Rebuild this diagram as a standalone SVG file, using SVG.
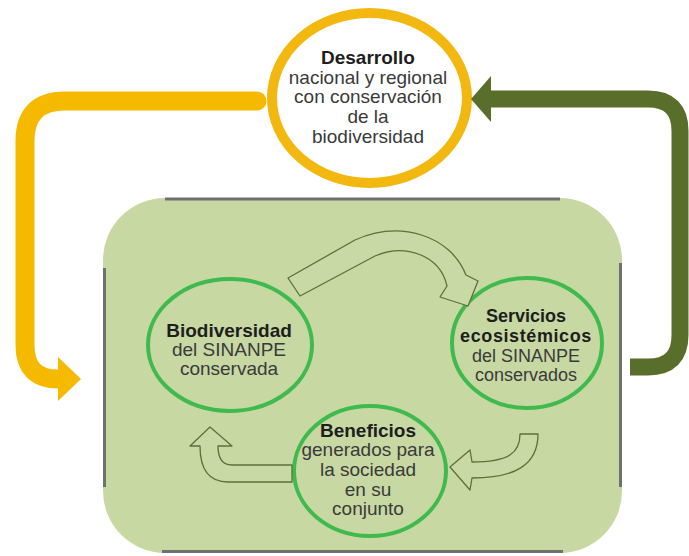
<svg xmlns="http://www.w3.org/2000/svg" width="689" height="556" viewBox="0 0 689 556">
<style>
.t{font-family:"Liberation Sans",Arial,sans-serif;font-size:19px;fill:#3a3a3a;text-anchor:middle}
.s{font-size:18px}
.b{font-weight:bold;fill:#1e1e1e}
.ring{fill:none;stroke:#3fba4c;stroke-width:4}
.blk{fill:#c9d9a6;stroke:#5d6f3c;stroke-width:1.3;stroke-linejoin:round}
.edge{stroke:#707070;stroke-width:3;fill:none}
</style>
<rect width="689" height="556" fill="#ffffff"/>
<g id="panel">
<rect x="103" y="198" width="519" height="355" rx="62" ry="62" fill="#c7d8a3"/>
<line class="edge" x1="165" y1="199" x2="560" y2="199"/>
<line class="edge" x1="104.5" y1="268" x2="104.5" y2="487"/>
<line class="edge" x1="620.5" y1="263" x2="620.5" y2="487"/>
<line class="edge" x1="162" y1="551.5" x2="563" y2="551.5"/>
</g>
<g id="desarrollo">
<ellipse cx="369.5" cy="98" rx="97.5" ry="85" fill="#ffffff" stroke="#f2b80f" stroke-width="10"/>
<text class="t b" x="368" y="64">Desarrollo</text>
<text class="t" x="368" y="84">nacional y regional</text>
<text class="t" x="368" y="103">con conservación</text>
<text class="t" x="368" y="123">de la</text>
<text class="t" x="368" y="143">biodiversidad</text>
</g>
<g id="biodiversidad">
<ellipse class="ring" cx="230" cy="345" rx="82" ry="66"/>
<text class="t b" x="229" y="337">Biodiversidad</text>
<text class="t" x="229" y="356">del SINANPE</text>
<text class="t" x="229" y="375">conservada</text>
</g>
<g id="servicios">
<ellipse class="ring" cx="527" cy="343" rx="75" ry="65"/>
<text class="t s b" x="526" y="322">Servicios</text>
<text class="t s b" x="526" y="342" letter-spacing="0.6">ecosistémicos</text>
<text class="t s" x="526" y="362">del SINANPE</text>
<text class="t s" x="526" y="381">conservados</text>
</g>
<g id="beneficios">
<ellipse class="ring" cx="370" cy="471" rx="76" ry="65"/>
<text class="t b" x="368" y="437">Beneficios</text>
<text class="t" x="368" y="456">generados para</text>
<text class="t" x="368" y="476">la sociedad</text>
<text class="t" x="368" y="496">en su</text>
<text class="t" x="368" y="515">conjunto</text>
</g>
<g id="connectors">
<path d="M257 101 L65 101 Q25 101 25 141 L25 345 Q25 379 58 379" fill="none" stroke="#f5b900" stroke-width="19" stroke-linecap="round"/>
<polygon points="58,357 81,379 58,401" fill="#f5b900"/>
<path d="M490 99 L648 99 Q680 99 680 131 L680 335 Q680 367 648 367 L630 367" fill="none" stroke="#5a6e2c" stroke-width="17"/>
<polygon points="491,76 471,99 491,122" fill="#5a6e2c"/>
<path class="blk" d="M288 278 L355 240 C400 220 450 235 466 275 L478 281 L468 306 L440 297 L447 286 C440 255 405 243 375 256 L300 296 Z"/>
<path class="blk" d="M520 434 L538 434 C538 465 515 478 472 478 L470 490 L450 467 L470 450 L472 462 C510 462 520 452 520 434 Z"/>
<path class="blk" d="M292 465 L232 465 C222 465 218 458 218 446 L232 446 L210 427 L190 446 L200 446 C200 470 210 482 228 482 L292 482 Z"/>
</g>
</svg>
